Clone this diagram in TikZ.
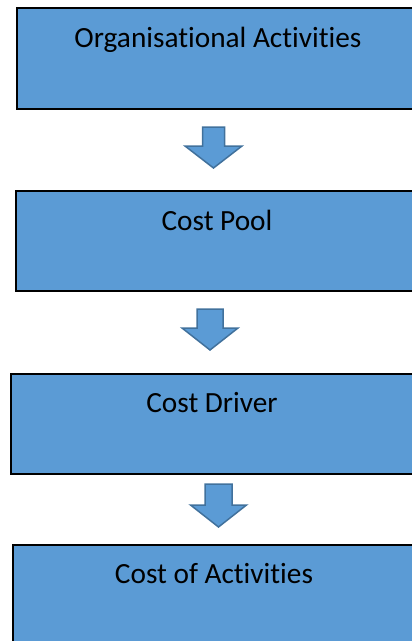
\documentclass[tikz,border=0pt]{standalone}
\usepackage{fontspec}
\setmainfont{Carlito}[Ligatures={NoCommon}]
\definecolor{boxblue}{HTML}{5B9BD5}
\definecolor{edgeblue}{HTML}{41719C}
\begin{document}
\begin{tikzpicture}[x=1pt,y=-1pt,
  flowbox/.style={draw=black,line width=1.5pt,fill=boxblue,rectangle,inner sep=0pt,anchor=north west},
  boxtext/.style={anchor=base,inner sep=0pt,font=\fontsize{29.3}{35}\selectfont},
  blockarrow/.style={draw=edgeblue,line width=1.5pt,fill=boxblue,line join=miter}]
\useasboundingbox (0,0) rectangle (412,641);
\clip (0,0) rectangle (412,641);
% boxes
\node[flowbox,minimum width=430pt,minimum height=101pt] (b1) at (16,7) {};
\node[flowbox,minimum width=430pt,minimum height=100pt] (b2) at (15,190) {};
\node[flowbox,minimum width=430pt,minimum height=100pt] (b3) at (10,373) {};
\node[flowbox,minimum width=430pt,minimum height=110pt] (b4) at (12,544) {};
% texts
\node[boxtext] (t1) at (218,47) {Organisational Activities};
\node[boxtext] (t2) at (217,230) {Cost Pool};
\node[boxtext] (t3) at (212,412) {Cost Driver};
\node[boxtext] (t4) at (214,583) {Cost of Activities};
% block arrows
\coordinate (a1) at (213.5,127);
\coordinate (a2) at (210,309);
\coordinate (a3) at (218.5,484);
\draw[blockarrow] (a1) ++(-11,0) -- ++(22,0) -- ++(0,19) -- ++(17.5,0) -- ++(-28.5,22) -- ++(-28.5,-22) -- ++(17.5,0) -- cycle;
\draw[blockarrow] (a2) ++(-13,0) -- ++(26,0) -- ++(0,19) -- ++(15,0) -- ++(-28,22) -- ++(-28,-22) -- ++(15,0) -- cycle;
\draw[blockarrow] (a3) ++(-13.5,0) -- ++(27,0) -- ++(0,21) -- ++(14.5,0) -- ++(-28,22) -- ++(-28,-22) -- ++(14.5,0) -- cycle;
\end{tikzpicture}
\end{document}
